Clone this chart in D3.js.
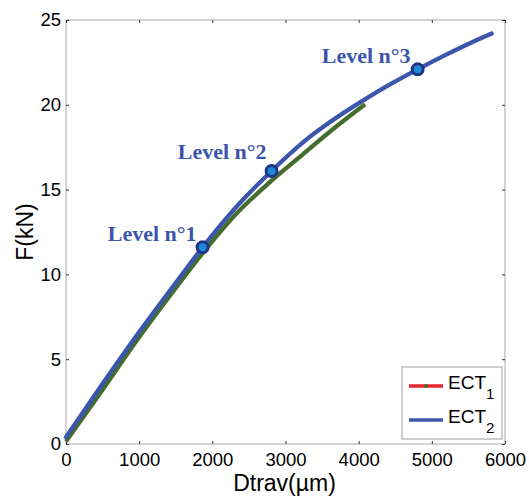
<!DOCTYPE html>
<html><head><meta charset="utf-8">
<script src="https://cdn.jsdelivr.net/npm/d3@7"></script>
<style>body{margin:0;background:#fff}</style>
</head><body>
<svg id="c" width="529" height="498"></svg>
<script>
const xTicks = [0,1000,2000,3000,4000,5000,6000];
const yTicks = [0,5,10,15,20,25];
const ect1X = [0, 500, 1000, 1500, 1867, 2300, 2788, 3243, 3608, 4086];
const ect1F = [0.15, 3.2, 6.3, 9.2, 11.25, 13.45, 15.45, 17.1, 18.42, 20.02];
const ect2X = [0, 500, 1000, 1500, 1867, 2300, 2810, 3243, 3608, 4063, 4428, 4806, 5203, 5521, 5818];
const ect2F = [0.4, 3.55, 6.6, 9.5, 11.6, 13.85, 16.1, 17.8, 18.98, 20.26, 21.2, 22.09, 22.97, 23.63, 24.2];
const levelX = [1867, 2810, 4806];
const levelF = [11.6, 16.1, 22.09];
const levelLabels = ["Level n°1","Level n°2","Level n°3"];
const labelOffsets = [[-6,-6],[-5,-12],[-7,-6]];
const seriesNames = ["ECT","ECT"];
const seriesSubs = ["1","2"];

const svg = d3.select("#c");
const L=66,R=505,T=20,B=444;
const x = d3.scaleLinear().domain([0,6000]).range([L,R]);
const y = d3.scaleLinear().domain([0,25]).range([B,T]);

svg.append("rect").attr("x",L).attr("y",T).attr("width",R-L).attr("height",B-T)
  .attr("fill","none").attr("stroke","#a8a8a8").attr("stroke-width",1);

const fontAx = "'Liberation Sans', Arial, sans-serif";
const gx = svg.append("g").attr("transform",`translate(0,${B})`)
  .call(d3.axisBottom(x).tickValues(xTicks).tickSize(-3).tickPadding(9).tickFormat(d3.format("d")));
const gy = svg.append("g").attr("transform",`translate(${L},0)`)
  .call(d3.axisLeft(y).tickValues(yTicks).tickSize(-3).tickPadding(5).tickFormat(d3.format("d")));
const gxt = svg.append("g").attr("transform",`translate(0,${T})`)
  .call(d3.axisTop(x).tickValues(xTicks).tickSize(-3).tickFormat(""));
const gyr = svg.append("g").attr("transform",`translate(${R},0)`)
  .call(d3.axisRight(y).tickValues(yTicks).tickSize(-3).tickFormat(""));
[gx,gy,gxt,gyr].forEach(g=>{
  g.select(".domain").remove();
  g.selectAll(".tick line").attr("stroke","#333").attr("stroke-width",1);
  g.selectAll(".tick text").attr("fill","#000").style("font-family",fontAx).style("font-size","18.5px");
});
gx.selectAll(".tick text").attr("dy","0.71em");

svg.append("text").attr("x",(L+R)/2-1).attr("y",491).attr("text-anchor","middle")
  .style("font-family",fontAx).style("font-size","23px").text("Dtrav(µm)");
svg.append("text").attr("transform",`translate(33,${(T+B)/2}) rotate(-90)`).attr("text-anchor","middle")
  .style("font-family",fontAx).style("font-size","23px").text("F(kN)");

const line = d3.line().x(d=>x(d[0])).y(d=>y(d[1])).curve(d3.curveMonotoneX);
const d1 = ect1X.map((v,i)=>[v,ect1F[i]]);
const d2 = ect2X.map((v,i)=>[v,ect2F[i]]);

svg.append("path").attr("d",line(d1)).attr("fill","none").attr("stroke","#e0a0a0").attr("stroke-width",4.5);
svg.append("path").attr("d",line(d1)).attr("fill","none").attr("stroke","#3e6f2b").attr("stroke-width",4);
svg.append("path").attr("d",line(d2)).attr("fill","none").attr("stroke","#3d56ad").attr("stroke-width",4.3)
  .attr("stroke-linecap","round");

levelX.forEach((lx,i)=>{
  const cx=x(lx), cy=y(levelF[i]);
  svg.append("circle").attr("cx",cx).attr("cy",cy).attr("r",5.5).attr("fill","#1f8ad4").attr("stroke","#1f3486").attr("stroke-width",3);
  svg.append("text").attr("x",cx+labelOffsets[i][0]).attr("y",cy+labelOffsets[i][1]).attr("text-anchor","end")
    .style("font-family","'Liberation Serif','DejaVu Serif',serif").style("font-weight","bold").style("font-size","22px")
    .attr("fill","#3b56a8").text(levelLabels[i]);
});

const lg = svg.append("g");
lg.append("rect").attr("x",402).attr("y",367).attr("width",100).attr("height",72).attr("fill","#fff").attr("stroke","#a0a0a0");
const legY=[386,420];
const legColors=["#e8262b","#3d56ad"];
seriesNames.forEach((n,i)=>{
  lg.append("line").attr("x1",409).attr("x2",443).attr("y1",legY[i]).attr("y2",legY[i]).attr("stroke",legColors[i]).attr("stroke-width",3.5);
  if(i===0) lg.append("circle").attr("cx",426).attr("cy",legY[i]).attr("r",2).attr("fill","#3e6f2b");
  const t = lg.append("text").attr("x",448).attr("y",legY[i]+3).style("font-family",fontAx).style("font-size","19px");
  t.append("tspan").text(n);
  t.append("tspan").attr("dy",10).style("font-size","15px").text(seriesSubs[i]);
});
</script>
</body></html>
